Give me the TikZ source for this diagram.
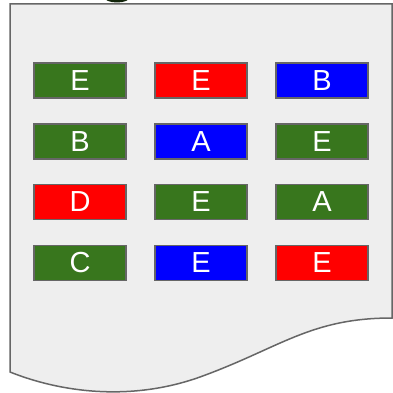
\documentclass[tikz,border=0pt]{standalone}
\usepackage{fontspec}
\setmainfont{Liberation Sans}
\definecolor{cgreen}{HTML}{38761D}
\definecolor{cred}{HTML}{FF0000}
\definecolor{cblue}{HTML}{0000FF}
\definecolor{docfill}{HTML}{EEEEEE}
\definecolor{edge}{HTML}{666666}
\begin{document}
\begin{tikzpicture}[x=1pt,y=-1pt,
  cell/.style={draw=edge, line width=1.5pt, minimum width=92pt, minimum height=35pt, inner sep=0pt, text=white, font=\fontsize{29}{29}\selectfont},
  g/.style={cell, fill=cgreen}, r/.style={cell, fill=cred}, b/.style={cell, fill=cblue}]
\useasboundingbox (0,0) rectangle (393,393);
\clip (0,0) rectangle (393,393);
\fill[fill=white] (0,0) rectangle (393,393);
\fill[fill=black!70!cgreen] (117,-3) ellipse [x radius=13, y radius=5.5];
\draw[draw=edge, fill=docfill, line width=1.5pt]
  (10,4) -- (392,4) -- (392,318)
  .. controls (310,318) and (280,348) .. (200,377)
  .. controls (130,402) and (60,392) .. (10,372) -- cycle;
\node[g] (a1) at (80,80.5) {E};
\node[r] (a2) at (201,80.5) {E};
\node[b] (a3) at (322,80.5) {B};
\node[g] (b1) at (80,141.5) {B};
\node[b] (b2) at (201,141.5) {A};
\node[g] (b3) at (322,141.5) {E};
\node[r] (c1) at (80,202) {D};
\node[g] (c2) at (201,202) {E};
\node[g] (c3) at (322,202) {A};
\node[g] (d1) at (80,263) {C};
\node[b] (d2) at (201,263) {E};
\node[r] (d3) at (322,263) {E};
\end{tikzpicture}
\end{document}
